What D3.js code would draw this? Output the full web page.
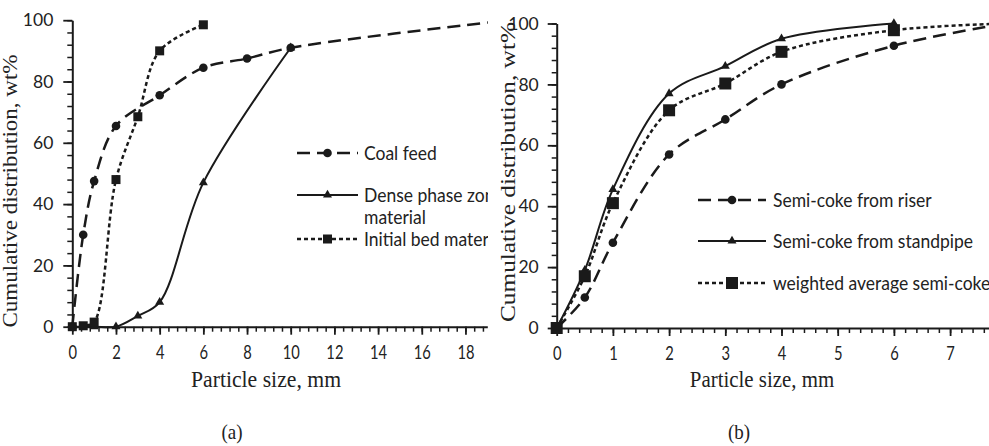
<!DOCTYPE html>
<html><head><meta charset="utf-8">
<script src="https://cdn.jsdelivr.net/npm/d3@7"></script>
<style>
html,body{margin:0;padding:0;background:#fff;}
svg{display:block;}
</style></head><body>
<svg id="chart" width="989" height="446"></svg>
<script>
// ---------- Panel (a): coal feed, dense phase zone, initial bed ----------
const coalSize  = [0, 0.5, 1, 2, 4, 6, 8, 10, 20];
const coalCum   = [0, 30, 47.5, 65.5, 75.5, 84.5, 87.5, 91, 100];
const denseSize = [0, 1, 2, 3, 4, 6, 10];
const denseCum  = [0, 0, 0, 3.5, 8, 47, 91];
const bedSize   = [0, 0.5, 1, 2, 3, 4, 6];
const bedCum    = [0, 0.3, 1.5, 48, 68.5, 90, 98.5];
const xTicksA   = [0, 2, 4, 6, 8, 10, 12, 14, 16, 18];
const legendA   = [["Coal feed"], ["Dense phase zone", "material"], ["Initial bed material"]];

// ---------- Panel (b): semi-coke samples ----------
const sizeB       = [0, 0.5, 1, 2, 3, 4, 6, 8];
const riserCum    = [0, 10, 28, 57, 68.5, 80, 92.7, 100];
const standSize   = [0, 0.5, 1, 2, 3, 4, 6];
const standCum    = [0, 19, 45.5, 77, 86, 95, 100];
const weightedCum = [0, 17, 41, 71.5, 80.3, 90.7, 97.8, 100];
const xTicksB     = [0, 1, 2, 3, 4, 5, 6, 7];
const legendB     = [["Semi-coke from riser"], ["Semi-coke from standpipe"], ["weighted average semi-coke"]];

const yTicks = [0, 20, 40, 60, 80, 100];
const xTitle = "Particle size, mm";
const yTitle = "Cumulative distribution, wt%";

const svg = d3.select("#chart");
const INK = "#1a1a1a";
const TXT = "#222";
const SANS = "Lato, 'Noto Sans', sans-serif";
const SERIF = "'Liberation Serif', 'DejaVu Serif', serif";

const xA = d3.scaleLinear().domain([0, 19]).range([72.3, 487.3]);
const yA = d3.scaleLinear().domain([0, 100]).range([326.7, 20.2]);
const xB = d3.scaleLinear().domain([0, 8]).range([556.7, 1006.3]);
const yB = d3.scaleLinear().domain([0, 100]).range([328, 23.5]);

const defs = svg.append("defs");
defs.append("clipPath").attr("id", "clipA").append("rect")
  .attr("x", 0).attr("y", 0).attr("width", 488).attr("height", 446);

const styles = {
  long:  {dash: "13,7", width: 2.5},
  solid: {dash: null,   width: 2},
  short: {dash: "4,3",  width: 2.5}
};

function drawMarker(g, type, cx, cy, s) {
  if (type === "circle") {
    g.append("circle").attr("cx", cx).attr("cy", cy).attr("r", s).attr("fill", INK);
  } else if (type === "square") {
    g.append("rect").attr("x", cx - s / 2).attr("y", cy - s / 2)
      .attr("width", s).attr("height", s).attr("fill", INK);
  } else {
    g.append("path").attr("d", d3.symbol(d3.symbolTriangle, s * s * 0.55)())
      .attr("transform", `translate(${cx},${cy})`).attr("fill", INK);
  }
}

function drawSeries(g, x, y, xs, ys, style, marker, msize) {
  const pts = xs.map((v, i) => [x(v), y(ys[i])]);
  const line = d3.line().curve(d3.curveCatmullRom.alpha(0.5));
  g.append("path").attr("d", line(pts)).attr("fill", "none")
    .attr("stroke", INK).attr("stroke-width", style.width)
    .attr("stroke-dasharray", style.dash);
  pts.forEach(p => drawMarker(g, marker, p[0], p[1], msize));
}

function minorValues(lo, hi, step) {
  const out = [];
  for (let v = lo; v <= hi + 1e-9; v += step) out.push(+v.toFixed(4));
  return out;
}

function drawAxes(x, y, xMajors, xMinorStep, xMax, yLabelPad) {
  const ax = svg.append("g");
  // y axis: minor ticks every 4, labelled majors every 20
  const gy = ax.append("g").attr("transform", `translate(${x(0)},0)`);
  gy.call(d3.axisLeft(y).tickValues(minorValues(0, 100, 4)).tickSize(5).tickSizeOuter(0).tickFormat(""));
  gy.select(".domain").remove();
  gy.selectAll(".tick line").attr("stroke", INK).attr("stroke-width", 1.5);
  const gy2 = ax.append("g").attr("transform", `translate(${x(0)},0)`);
  gy2.call(d3.axisLeft(y).tickValues(yTicks).tickSize(9).tickSizeOuter(0).tickPadding(yLabelPad));
  gy2.select(".domain").attr("stroke", INK).attr("stroke-width", 2);
  gy2.selectAll(".tick line").attr("stroke", INK).attr("stroke-width", 1.8);
  gy2.selectAll(".tick text").attr("fill", TXT).style("font-family", SANS).style("font-size", "17.5px");
  // x axis: minor ticks at a fifth of the major step
  const y0 = y(0);
  const gx = ax.append("g").attr("transform", `translate(0,${y0})`);
  gx.call(d3.axisBottom(x).tickValues(minorValues(0, xMax, xMinorStep)).tickSize(5).tickSizeOuter(0).tickFormat(""));
  gx.select(".domain").remove();
  gx.selectAll(".tick line").attr("stroke", INK).attr("stroke-width", 1.5);
  const gx2 = ax.append("g").attr("transform", `translate(0,${y0})`);
  gx2.call(d3.axisBottom(x).tickValues(xMajors).tickSize(8).tickSizeOuter(0));
  gx2.select(".domain").attr("stroke", INK).attr("stroke-width", 2);
  gx2.selectAll(".tick line").attr("stroke", INK).attr("stroke-width", 1.8);
  gx2.selectAll(".tick text")
    .attr("y", 0).attr("dy", "0.72em")
    .attr("transform", "translate(0,19) scale(0.92,1.15)")
    .attr("fill", TXT).style("font-family", SANS).style("font-size", "16px");
  return ax;
}

function drawLegend(g, rows, x0, x1, xt, ys, kinds) {
  rows.forEach((lines, i) => {
    const k = kinds[i];
    g.append("line").attr("x1", x0).attr("x2", x1).attr("y1", ys[i]).attr("y2", ys[i])
      .attr("stroke", INK).attr("stroke-width", k.style.width)
      .attr("stroke-dasharray", k.style.dash);
    drawMarker(g, k.marker, (x0 + x1) / 2, ys[i], k.size);
    lines.forEach((t, j) => {
      g.append("text").attr("transform", `translate(${xt},${ys[i] + j * 22}) scale(1.0,1.07)`)
        .attr("dy", "0.36em").attr("fill", TXT)
        .style("font-family", SANS).style("font-size", "17.5px").text(t);
    });
  });
}

// ----- Panel (a) -----
drawAxes(xA, yA, xTicksA, 0.4, 19, 10);
const plotA = svg.append("g").attr("clip-path", "url(#clipA)");
drawSeries(plotA, xA, yA, denseSize, denseCum, styles.solid, "triangle", 8);
drawSeries(plotA, xA, yA, bedSize, bedCum, styles.short, "square", 9);
drawSeries(plotA, xA, yA, coalSize, coalCum, styles.long, "circle", 4.3);
const legA = svg.append("g").attr("clip-path", "url(#clipA)");
drawLegend(legA, legendA, 297, 358, 364, [153, 195, 239], [
  {style: styles.long, marker: "circle", size: 4.3},
  {style: styles.solid, marker: "triangle", size: 8},
  {style: styles.short, marker: "square", size: 9}
]);

// ----- Panel (b) -----
drawAxes(xB, yB, xTicksB, 0.2, 8, 9);
const plotB = svg.append("g");
drawSeries(plotB, xB, yB, sizeB, riserCum, styles.long, "circle", 4.3);
drawSeries(plotB, xB, yB, standSize, standCum, styles.solid, "triangle", 8);
drawSeries(plotB, xB, yB, sizeB, weightedCum, styles.short, "square", 12);
drawLegend(svg.append("g"), legendB, 698, 766, 773, [200, 241, 283], [
  {style: styles.long, marker: "circle", size: 4.3},
  {style: styles.solid, marker: "triangle", size: 8},
  {style: styles.short, marker: "square", size: 12}
]);

// ----- Titles -----
function serifText(x, y, t, len, rot, size) {
  const el = svg.append("text")
    .attr("transform", `translate(${x},${y})` + (rot ? " rotate(-90)" : " scale(0.95,1.1)"))
    .attr("text-anchor", "middle").attr("fill", TXT)
    .style("font-family", SERIF).style("font-size", (size || 20) + "px").text(t);
  if (len) el.attr("textLength", len).attr("lengthAdjust", "spacingAndGlyphs");
  return el;
}
serifText(266, 387, xTitle, 158, false, 21);
serifText(762, 387, xTitle, 152, false, 21);
serifText(17, 191, yTitle, 273, true, 20);
serifText(515, 172, yTitle, 300, true, 20);
serifText(232, 439, "(a)", null, false, 20);
serifText(739, 439, "(b)", null, false, 20);
</script>
</body></html>
